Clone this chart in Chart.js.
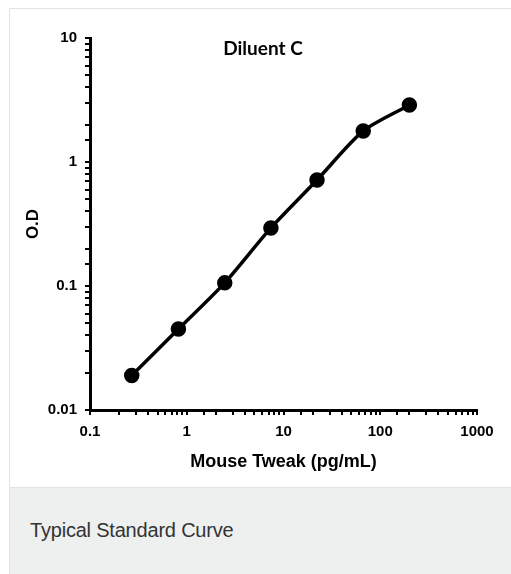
<!DOCTYPE html>
<html>
<head>
    <meta charset="utf-8" />
    <title>Typical Standard Curve</title>
    <script src="https://cdn.jsdelivr.net/npm/chart.js@4.4.0/dist/chart.umd.min.js"></script>
    <style>
        body { margin: 0; background: #fff; overflow: hidden; font-family: "Liberation Sans", Arial, sans-serif; }
        .card { position: absolute; left: 9px; top: 8px; width: 520px; border: 1px solid #e3e3e3; }
        .plot { position: relative; width: 501px; height: 478px; }
        .caption { background: #eeefef; height: 90px; border-top: 1px solid #e3e3e3; }
        .caption span { display: block; padding: 31px 0 0 20px; font-size: 20px; color: #333; letter-spacing: -0.2px; }
    </style>
</head>
<body>
    <div class="card">
        <div class="plot"><canvas id="myChart"></canvas></div>
        <div class="caption"><span>Typical Standard Curve</span></div>
    </div>

    <script>
        // standard curve
        const concentration = [0.27, 0.82, 2.47, 7.41, 22.2, 66.7, 200];
        const od = [0.019, 0.045, 0.106, 0.294, 0.716, 1.78, 2.88];
        const xTickLabels = [0.1, 1, 10, 100, 1000];
        const yTickLabels = [0.01, 0.1, 1, 10];

        const points = concentration.map(function (c, i) { return { x: c, y: od[i] }; });

        const chartTitle = {
            id: 'chartTitle',
            afterDraw: function (chart) {
                const ctx = chart.ctx;
                ctx.save();
                ctx.font = 'bold 19px Lato';
                ctx.fillStyle = '#000';
                ctx.textAlign = 'center';
                ctx.textBaseline = 'middle';
                ctx.fillText('Diluent C', 253, 40);
                ctx.restore();
            }
        };

        function decadeLabel(list) {
            return function (value) {
                return list.indexOf(value) >= 0 ? String(value) : '';
            };
        }

        let myChart = new Chart(document.getElementById('myChart'), {
            type: 'scatter',
            data: {
                datasets: [{
                    label: 'O.D',
                    data: points,
                    showLine: true,
                    borderColor: '#000',
                    backgroundColor: '#000',
                    borderWidth: 3.5,
                    tension: 0.25,
                    pointRadius: 6,
                    pointHoverRadius: 6
                }]
            },
            options: {
                responsive: true,
                maintainAspectRatio: false,
                animation: false,
                layout: { padding: { top: 29, right: 34, left: 0, bottom: 0 } },
                plugins: {
                    legend: { display: false },
                    tooltip: { enabled: false }
                },
                scales: {
                    x: {
                        type: 'logarithmic',
                        min: 0.1,
                        max: 1000,
                        border: { color: '#000', width: 3 },
                        grid: { drawOnChartArea: false, drawTicks: true, tickLength: 5, color: '#000', lineWidth: 2 },
                        ticks: {
                            color: '#000',
                            font: { family: 'Liberation Sans', weight: 'bold', size: 15 },
                            maxRotation: 0,
                            autoSkip: false,
                            padding: 8,
                            callback: decadeLabel(xTickLabels)
                        },
                        title: {
                            display: true,
                            text: 'Mouse Tweak (pg/mL)',
                            color: '#000',
                            font: { family: 'Liberation Sans', weight: 'bold', size: 18 },
                            padding: { top: 0, bottom: 14 }
                        },
                        afterFit: function (scale) { scale.height = 77; }
                    },
                    y: {
                        type: 'logarithmic',
                        min: 0.01,
                        max: 10,
                        border: { color: '#000', width: 3 },
                        grid: { drawOnChartArea: false, drawTicks: true, tickLength: 5, color: '#000', lineWidth: 2 },
                        ticks: {
                            color: '#000',
                            font: { family: 'Liberation Sans', weight: 'bold', size: 15 },
                            autoSkip: false,
                            padding: 8,
                            callback: decadeLabel(yTickLabels)
                        },
                        title: {
                            display: true,
                            text: 'O.D',
                            color: '#000',
                            font: { family: 'Liberation Sans', weight: 'bold', size: 17 },
                            padding: { top: 13 }
                        },
                        afterFit: function (scale) { scale.width = 80; }
                    }
                }
            },
            plugins: [chartTitle]
        });
    </script>
</body>
</html>
